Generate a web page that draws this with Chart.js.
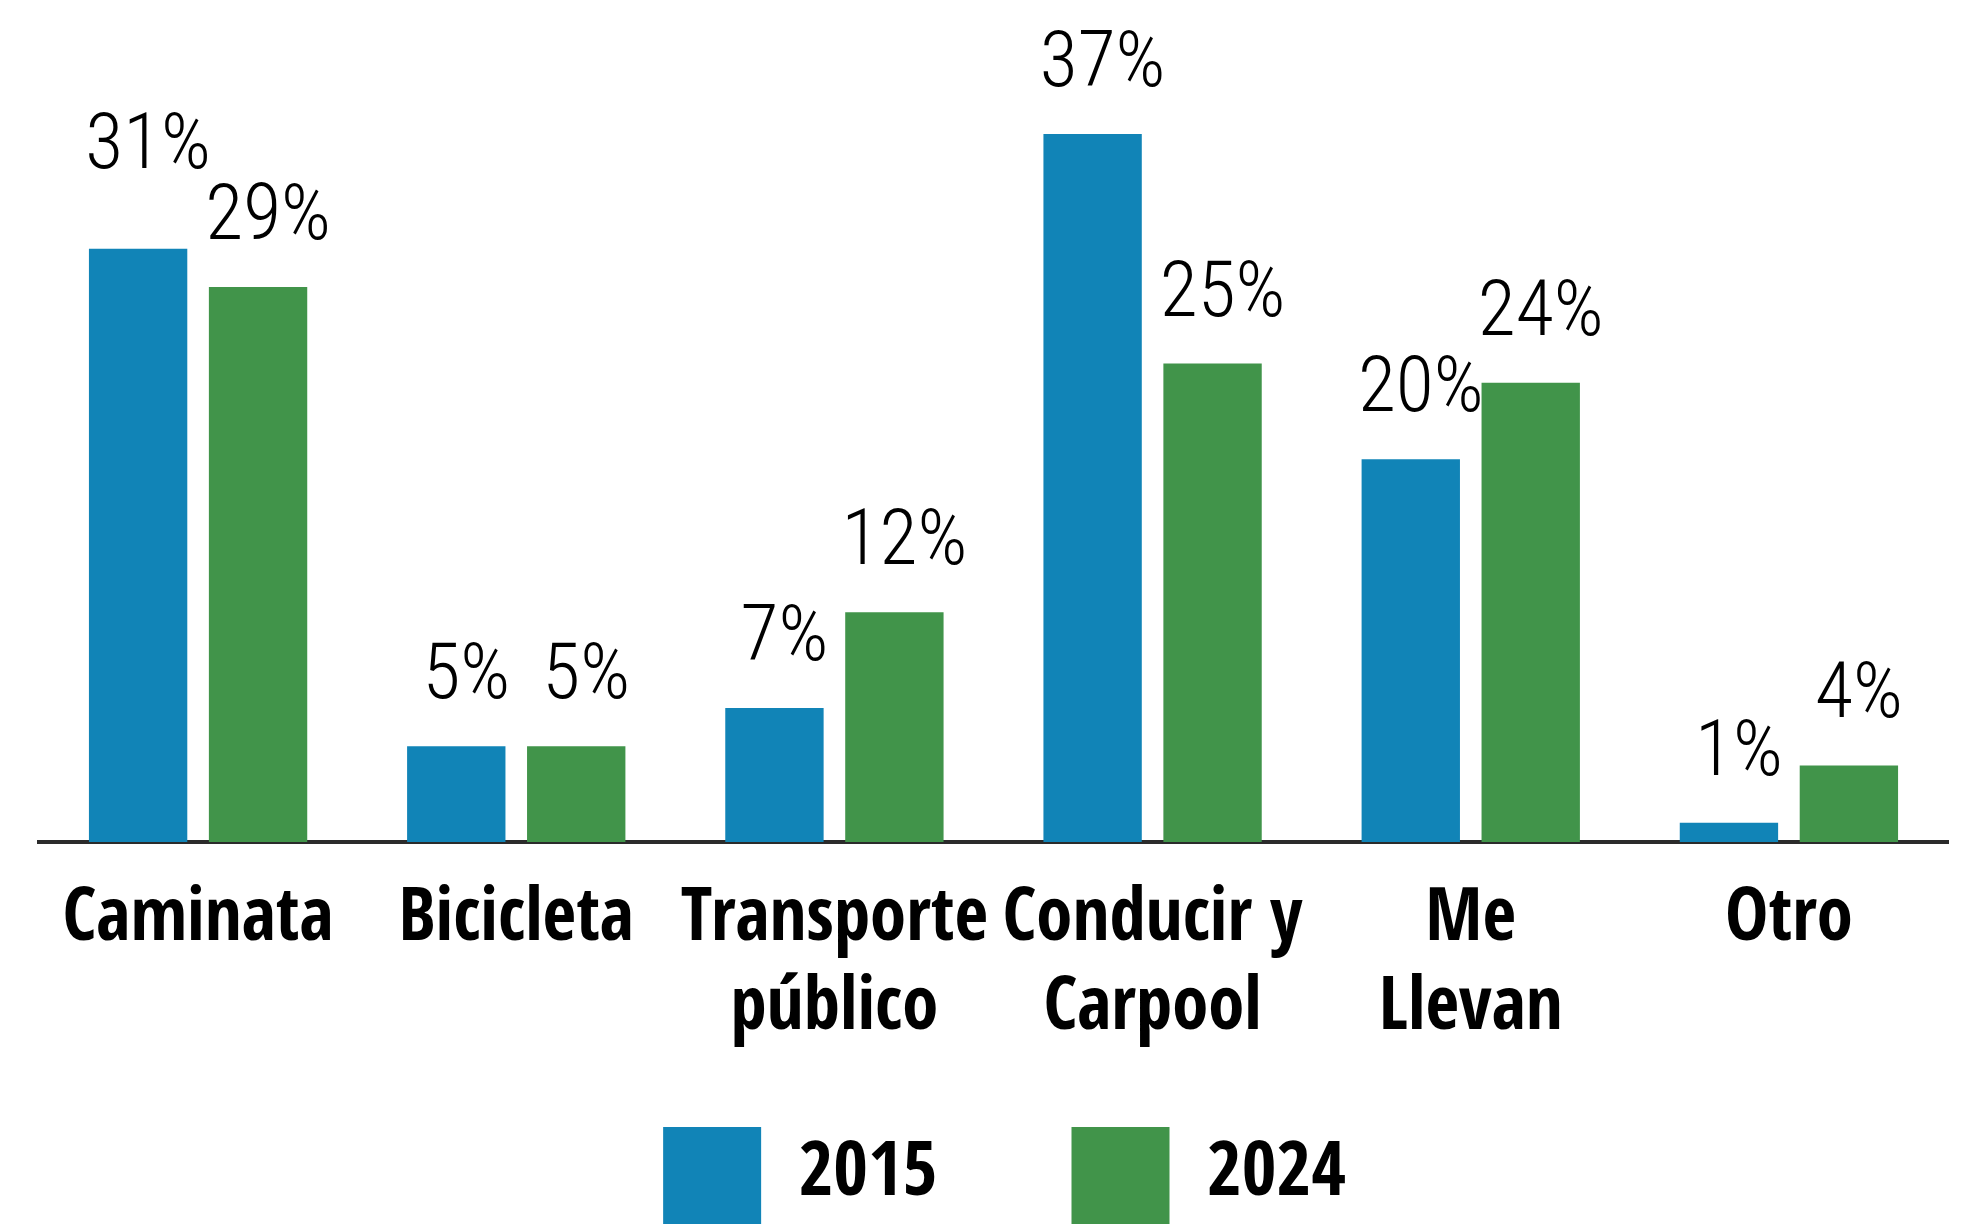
<!DOCTYPE html>
<html>
<head>
<meta charset="utf-8">
<script src="https://cdn.jsdelivr.net/npm/chart.js@4.4.0/dist/chart.umd.min.js"></script>
<style>
  html, body { margin: 0; padding: 0; background: #fff; overflow: hidden; }
  #wrap { width: 1982px; height: 1226px; }
</style>
</head>
<body>
<div id="wrap"><canvas id="c"></canvas></div>
<script>
  // Datos
  const categorias = [['Caminata'], ['Bicicleta'], ['Transporte', 'público'], ['Conducir y', 'Carpool'], ['Me', 'Llevan'], ['Otro']];
  const valores2015 = [31, 5, 7, 37, 20, 1];
  const valores2024 = [29, 5, 12, 25, 24, 4];
  const series = ['2015', '2024'];

  const azul = '#1184b7';
  const verde = '#41944a';
  const fuenteBold = '"Open Sans Condensed", "Roboto Condensed", sans-serif';
  const fuenteFina = '"Roboto Condensed", "Open Sans Condensed", sans-serif';

  // Etiquetas de porcentaje encima de cada barra
  const etiquetasBarras = {
    id: 'etiquetasBarras',
    afterLayout(chart) {
      // que las etiquetas de dos líneas no se recorten
      chart.scales.x.bottom = chart.height;
      // leyenda un poco a la derecha, como en el original
      chart.legend.left += 11;
      chart.legend.right += 11;
    },
    afterDatasetsDraw(chart) {
      const ctx = chart.ctx;
      ctx.save();
      ctx.font = '300 78px ' + fuenteFina;
      ctx.fillStyle = '#000';
      ctx.textAlign = 'center';
      ctx.textBaseline = 'alphabetic';
      const m0 = chart.getDatasetMeta(0);
      const m1 = chart.getDatasetMeta(1);
      const alto = 56;
      m0.data.forEach((bar0, i) => {
        const bar1 = m1.data[i];
        const t0 = chart.data.datasets[0].data[i] + '%';
        const t1 = chart.data.datasets[1].data[i] + '%';
        const x0 = bar0.x + 10, x1 = bar1.x + 10;
        let y0 = bar0.y - 48;
        const y1 = bar1.y - 48;
        const w0 = ctx.measureText(t0).width, w1 = ctx.measureText(t1).width;
        // evitar que se encimen las etiquetas
        if (x0 + w0 / 2 > x1 - w1 / 2 && y0 > y1 - alto - 12 && y0 < y1 + alto) {
          y0 = y1 - alto - 15;
        }
        ctx.fillText(t0, x0, y0);
        ctx.fillText(t1, x1, y1);
      });
      ctx.restore();
    }
  };

  const ctx = document.getElementById('c').getContext('2d');
  new Chart(ctx, {
    type: 'bar',
    data: {
      labels: categorias,
      datasets: [
        { label: series[0], data: valores2015, backgroundColor: azul, borderWidth: 0,
          categoryPercentage: 0.754, barPercentage: 0.82 },
        { label: series[1], data: valores2024, backgroundColor: verde, borderWidth: 0,
          categoryPercentage: 0.754, barPercentage: 0.82 }
      ]
    },
    options: {
      responsive: true,
      maintainAspectRatio: false,
      animation: false,
      layout: { padding: { left: 39, right: 34, top: 0, bottom: -8 } },
      plugins: {
        legend: {
          position: 'bottom',
          labels: {
            boxWidth: 98,
            boxHeight: 97,
            padding: 134,
            color: '#000',
            font: { family: fuenteBold, size: 75, weight: 'bold' }
          }
        },
        tooltip: { enabled: false }
      },
      scales: {
        x: {
          grid: { display: false },
          border: { display: true, color: '#2b2b2b', width: 4 },
          ticks: {
            color: '#000',
            padding: 27,
            maxRotation: 0,
            autoSkip: false,
            font: { family: fuenteBold, size: 73, weight: 'bold', lineHeight: 1.21 }
          },
          afterFit(scale) { scale.height = 151; }
        },
        y: {
          display: false,
          min: 0,
          max: 44
        }
      }
    },
    plugins: [etiquetasBarras]
  });
</script>
</body>
</html>
